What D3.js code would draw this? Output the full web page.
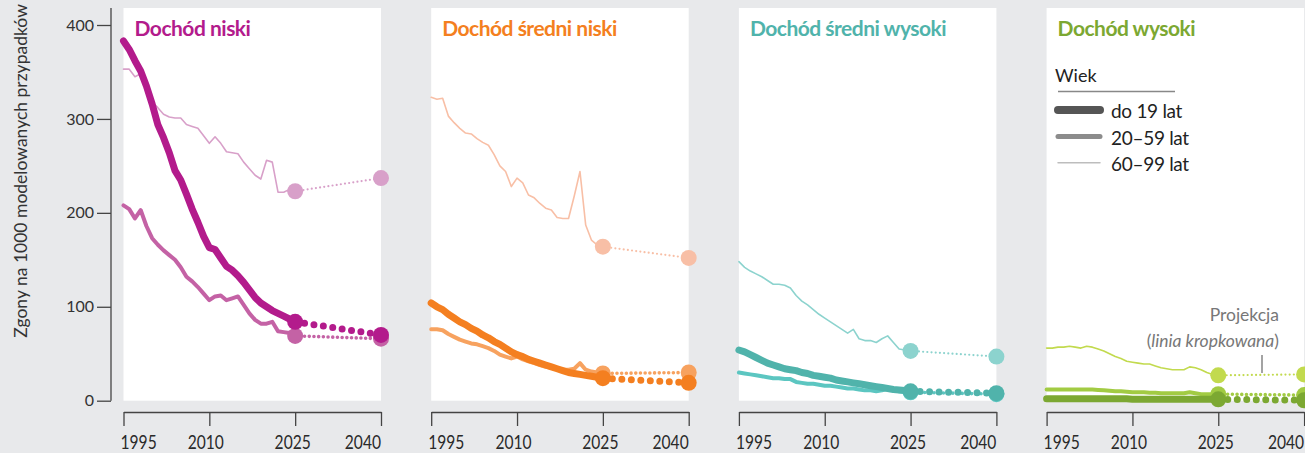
<!DOCTYPE html>
<html>
<head>
<meta charset="utf-8">
<script src="https://cdn.jsdelivr.net/npm/d3@7"></script>
<style>
  html, body { margin: 0; padding: 0; background: #e8e9eb; }
  svg { display: block; font-family: Lato, "Open Sans", sans-serif; }
</style>
</head>
<body>
<svg id="chart" width="1305" height="453"></svg>
<script>
// ----- dane -----
const years = d3.range(1995, 2026);
const projYears = [2025, 2040];
const xTicks = [1995, 2010, 2025, 2040];
const yTicks = [0, 100, 200, 300, 400];
const incomeGroups = ["Dochód niski", "Dochód średni niski", "Dochód średni wysoki", "Dochód wysoki"];
const ageGroups = ["do 19 lat", "20–59 lat", "60–99 lat"];

// Dochód niski
const lowYoung = [383, 374, 362, 351, 335, 316, 294, 280, 264, 245, 235, 220, 204, 190, 175, 163, 161, 152, 143, 139, 133, 126, 118, 110, 104, 100, 96, 93, 90, 87, 84];
const lowMid = [208, 204, 194, 203, 186, 173, 166, 160, 155, 150, 142, 132, 127, 121, 114, 107, 111, 112, 107, 109, 111, 102, 93, 86, 82, 82, 84, 74, 73, 72, 69];
const lowOld = [353, 353, 345, 348, 330, 318, 312, 305, 302, 301, 301, 294, 292, 290, 282, 274, 281, 274, 265, 264, 263, 254, 247, 240, 236, 256, 254, 222, 222, 225, 223];
const lowProj = [[84, 70], [69, 66], [223, 237]];

// Dochód średni niski
const lmYoung = [104, 100, 97, 92, 88, 84, 81, 77, 74, 70, 67, 63, 60, 56, 52, 49, 47, 44, 42, 40, 38, 36, 34, 32, 30, 29, 28, 27, 26, 25, 24];
const lmMid = [76, 76, 75, 71, 68, 65, 63, 61, 60, 58, 56, 53, 49, 47, 45, 47, 44, 42, 40, 38, 36, 35, 34, 33, 33, 34, 40, 33, 31, 30, 29];
const lmOld = [323, 321, 322, 303, 296, 290, 285, 284, 279, 275, 272, 262, 250, 244, 228, 237, 232, 219, 216, 210, 205, 203, 195, 194, 194, 218, 244, 187, 171, 166, 164];
const lmProj = [[24, 19], [29, 30], [164, 152]];

// Dochód średni wysoki
const umYoung = [54, 52, 49, 46, 43, 40, 38, 36, 34, 33, 32, 30, 29, 27, 26, 25, 24, 22, 21, 20, 19, 18, 17, 16, 15, 14, 13, 12, 11.5, 11, 10];
const umMid = [30, 29, 28, 27, 26, 25, 24, 24, 23, 23, 20, 19, 18, 18, 17, 16, 16, 15, 14, 13, 13, 12, 11, 11, 10, 11, 13, 11, 10, 9, 9];
const umOld = [148, 142, 138, 135, 132, 128, 124, 124, 123, 120, 112, 106, 102, 97, 92, 88, 84, 80, 76, 72, 76, 66, 64, 64, 62, 66, 69, 62, 55, 54, 53];
const umProj = [[10, 8], [9, 7], [53, 47]];

// Dochód wysoki
const hiYoung = [2, 2, 2, 2, 2, 2, 2, 2, 2, 2, 2, 2, 2, 2, 2, 1.5, 1.5, 1.5, 1.5, 1.5, 1.5, 1.5, 1.5, 1.5, 1.5, 1.5, 1.5, 1.5, 1.5, 1.5, 1.5];
const hiMid = [12, 12, 12, 12, 12, 12, 12, 12, 12, 11.5, 11, 10.5, 10, 10, 9.5, 9, 9, 9, 8.5, 8.5, 8, 8, 8, 8, 8, 9, 8, 7, 7, 7, 7];
const hiOld = [56, 56, 57, 57, 58, 57, 56, 58, 57, 55, 53, 50, 47, 45, 42, 41, 40, 39, 39, 37, 35, 34, 33, 33, 33, 36, 35, 33, 30, 28, 27];
const hiProj = [[1.5, 0.5], [7, 6], [27, 28]];

const panelSeries = [
    [lowYoung, lowMid, lowOld],
    [lmYoung, lmMid, lmOld],
    [umYoung, umMid, umOld],
    [hiYoung, hiMid, hiOld]
];
const panelProj = [lowProj, lmProj, umProj, hiProj];

// kolory: [gruba, średnia, cienka]
const panelColors = [
    ["#b31b8c", "#c462a5", "#d8a0c9"],
    ["#f47f20", "#f7a25f", "#f8bfa6"],
    ["#50b3ab", "#5cc6c1", "#8cd3ce"],
    ["#7ca832", "#a2cb43", "#c2da4e"]
];
const titleColors = ["#b31b8c", "#f47f20", "#50b3ab", "#7ca832"];

// style linii wg wieku
const lineWidth = [7, 4, 1.6];
const dotWidth = [7, 3.6, 2.2];
const dotDash = ["0 9.5", "0 4.7", "0 4.2"];
const legendColors = ["#555", "#8c8c8c", "#bdbdbd"];
const legendWidths = [8, 5, 1.5];

// ----- układ -----
const svg = d3.select("#chart");
const panelW = 257.5;
const panelStep = 307.7;
const firstX = 123.5;
const plotTop = 8, plotBottom = 400.7;
const squeeze = 0.78; // zwężenie etykiet osi X

const y = d3.scaleLinear().domain([0, 400]).range([plotBottom, 25]);

// oś Y
const yAxis = svg.append("g")
    .attr("transform", "translate(111,0)")
    .call(d3.axisLeft(y).tickValues(yTicks).tickSize(14).tickPadding(3));
yAxis.select(".domain").remove();
yAxis.append("line")
    .attr("y1", plotTop).attr("y2", plotBottom)
    .attr("stroke", "#444").attr("stroke-width", 1.3);
yAxis.selectAll(".tick line").attr("stroke", "#444").attr("stroke-width", 1.3);
yAxis.selectAll(".tick text")
    .attr("fill", "#333")
    .style("font-family", "Lato")
    .style("font-size", "16px");

svg.append("text")
    .attr("transform", `translate(27,171) rotate(-90)`)
    .attr("text-anchor", "middle")
    .attr("fill", "#333")
    .style("font-size", "17.5px")
    .text("Zgony na 1000 modelowanych przypadków");

incomeGroups.forEach((name, p) => {
    const x0 = firstX + p * panelStep;
    const x = d3.scaleLinear().domain([1995, 2040]).range([x0, x0 + panelW]);
    const g = svg.append("g");

    // białe tło panelu
    g.append("rect")
        .attr("x", x0).attr("y", plotTop)
        .attr("width", panelW).attr("height", plotBottom - plotTop)
        .attr("fill", "#fff");

    // tytuł
    g.append("text")
        .attr("x", x0 + 11).attr("y", 36)
        .attr("fill", titleColors[p])
        .style("font-weight", 700)
        .style("font-size", "21px")
        .style("letter-spacing", "-0.5px")
        .text(name);

    // oś X
    const xAxis = g.append("g")
        .attr("transform", "translate(0,412)")
        .call(d3.axisBottom(x).tickValues(xTicks).tickFormat(d3.format("d"))
            .tickSize(14).tickSizeOuter(0).tickPadding(8.5));
    xAxis.select(".domain").attr("stroke", "#444").attr("stroke-width", 1.3);
    xAxis.selectAll(".tick line").attr("stroke", "#444").attr("stroke-width", 1.3);
    const labelShift = [-3.5, -4, -3, -0.5];
    xAxis.selectAll(".tick text")
        .attr("fill", "#2a2a2a")
        .style("font-family", "Lato")
        .style("font-size", "20px")
        .attr("transform", `scale(${squeeze},1)`)
        .attr("text-anchor", (d, i) => i === 0 ? "start" : (i === xTicks.length - 1 ? "end" : "middle"))
        .attr("dx", (d, i) => labelShift[i] / squeeze);

    const line = d3.line().x((d, i) => x(years[i])).y(d => y(d)).curve(d3.curveLinear);
    const projLine = d3.line().x((d, i) => x(projYears[i])).y(d => y(d));

    // kolejność: cienka, średnia, gruba
    [2, 1, 0].forEach(a => {
        const col = panelColors[p][a];
        const series = panelSeries[p][a];
        const proj = panelProj[p][a];

        g.append("path")
            .attr("d", line(series))
            .attr("fill", "none")
            .attr("stroke", col)
            .attr("stroke-width", lineWidth[a])
            .attr("stroke-linejoin", "round")
            .attr("stroke-linecap", "round");

        g.append("path")
            .attr("d", projLine(proj))
            .attr("fill", "none")
            .attr("stroke", col)
            .attr("stroke-width", dotWidth[a])
            .attr("stroke-linecap", "round")
            .attr("stroke-dasharray", dotDash[a]);

        g.selectAll(null)
            .data(proj)
            .enter().append("circle")
            .attr("cx", (d, i) => x(projYears[i]))
            .attr("cy", d => y(d))
            .attr("r", 8)
            .attr("fill", col);
    });
});

// ----- legenda (panel 4) -----
const lg = svg.append("g");
lg.append("text")
    .attr("x", 1055).attr("y", 82)
    .attr("fill", "#222")
    .style("font-size", "18px")
    .text("Wiek");
lg.append("line")
    .attr("x1", 1058).attr("x2", 1175)
    .attr("y1", 91.5).attr("y2", 91.5)
    .attr("stroke", "#888").attr("stroke-width", 1.5);
ageGroups.forEach((a, i) => {
    const ly = 110 + i * 26.4;
    lg.append("line")
        .attr("x1", 1058).attr("x2", 1100)
        .attr("y1", ly).attr("y2", ly)
        .attr("stroke", legendColors[i])
        .attr("stroke-width", legendWidths[i])
        .attr("stroke-linecap", "round");
    lg.append("text")
        .attr("x", 1111).attr("y", ly + 8.3)
        .attr("fill", "#222")
        .style("font-size", "19px")
        .style("letter-spacing", "-0.3px")
        .text(a);
});

// ----- adnotacja projekcji -----
const ann = svg.append("g").attr("fill", "#777").style("font-size", "17.5px");
ann.append("text")
    .attr("x", 1279).attr("y", 321)
    .attr("text-anchor", "end")
    .text("Projekcja");
const t2 = ann.append("text")
    .attr("x", 1279).attr("y", 347)
    .attr("text-anchor", "end");
t2.append("tspan").text("(");
t2.append("tspan").style("font-style", "italic").text("linia kropkowana");
t2.append("tspan").text(")");
svg.append("line")
    .attr("x1", 1262).attr("x2", 1262)
    .attr("y1", 355).attr("y2", 373)
    .attr("stroke", "#666").attr("stroke-width", 1.2);
</script>
</body>
</html>
